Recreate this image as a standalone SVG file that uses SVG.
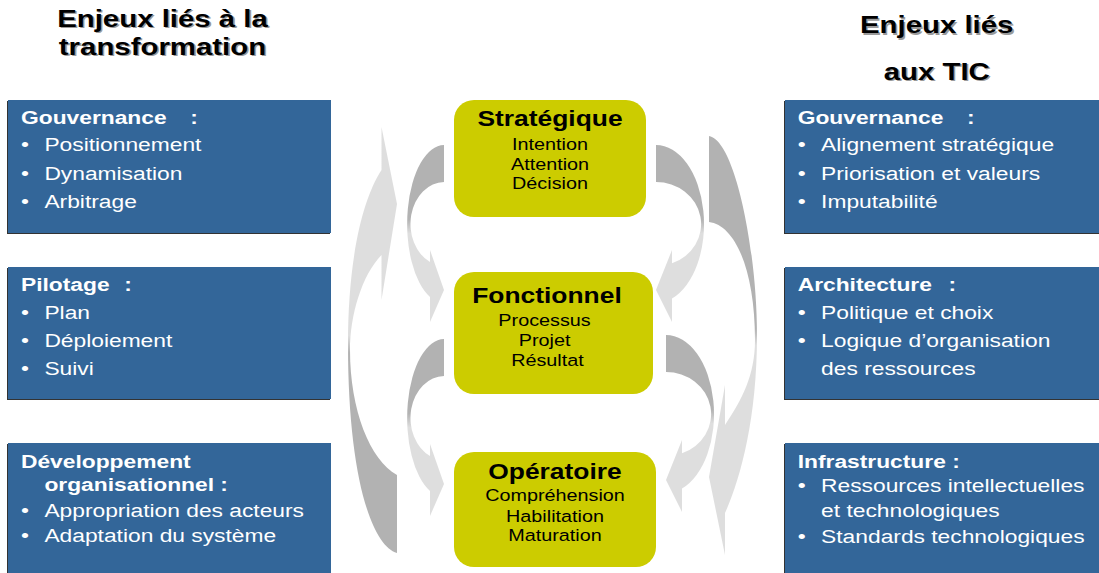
<svg xmlns="http://www.w3.org/2000/svg" width="1099" height="573" viewBox="0 0 1099 573">
  <style>
    text { font-family: "Liberation Sans", Arial, sans-serif; }
    .ttl { font-weight: bold; font-size: 24.5px; text-anchor: middle; }
    .sh { fill: #9a9a9a; }
    .fg { fill: #000000; }
    .box { fill: #336699; }
    .bs { fill: #333333; }
    .hd { font-weight: bold; font-size: 19px; fill: #ffffff; }
    .it { font-size: 19px; fill: #ffffff; }
    .lv { fill: #cccc00; }
    .lt { font-weight: bold; font-size: 22px; text-anchor: middle; fill: #000000; }
    .li { font-size: 16.5px; text-anchor: middle; fill: #000000; }
  </style>
  <defs>
    <!-- dark tail, light head (arrows pointing down) -->
    <linearGradient id="gSmall" x1="0" y1="0" x2="0" y2="1">
      <stop offset="0" stop-color="#b2b2b2"/>
      <stop offset="0.42" stop-color="#b2b2b2"/>
      <stop offset="0.5" stop-color="#dedede"/>
      <stop offset="1" stop-color="#dedede"/>
    </linearGradient>
    <linearGradient id="gBigL" x1="0" y1="0" x2="0" y2="1">
      <stop offset="0" stop-color="#dedede"/>
      <stop offset="0.49" stop-color="#dedede"/>
      <stop offset="0.53" stop-color="#b2b2b2"/>
      <stop offset="1" stop-color="#b2b2b2"/>
    </linearGradient>
    <linearGradient id="gBigR" x1="0" y1="0" x2="0" y2="1">
      <stop offset="0" stop-color="#b2b2b2"/>
      <stop offset="0.46" stop-color="#b2b2b2"/>
      <stop offset="0.5" stop-color="#dedede"/>
      <stop offset="1" stop-color="#dedede"/>
    </linearGradient>
    <path id="curveL" d="M444,145 A37,79 0 0 0 430,297 L430,322 L444,290 L430,250 L430,262 A34,42 0 0 1 444,182 Z"/>
    <path id="curveR" d="M656,145 A48,79 0 0 1 672,298.5 L672,322 L656,290 L672,250 L672,263.3 A45,42 0 0 0 656,182 Z"/>
  </defs>

  <rect width="1099" height="573" fill="#ffffff"/>

  <!-- column headings -->
  <g id="title-left">
    <g transform="translate(162.5,0) scale(1.2,1)">
      <text class="ttl sh" x="1.3" y="28.5">Enjeux liés à la</text>
      <text class="ttl sh" x="1.3" y="56.5">transformation</text>
      <text class="ttl fg" x="0" y="27">Enjeux liés à la</text>
      <text class="ttl fg" x="0" y="55">transformation</text>
    </g>
  </g>
  <g id="title-right">
    <g transform="translate(936.7,0) scale(1.2,1)">
      <text class="ttl sh" x="1.3" y="34.8">Enjeux liés</text>
      <text class="ttl sh" x="1.3" y="81.5">aux TIC</text>
      <text class="ttl fg" x="0" y="33.3">Enjeux liés</text>
      <text class="ttl fg" x="0" y="80">aux TIC</text>
    </g>
  </g>

  <!-- curved arrows between the levels -->
  <g id="connectors">
    <path id="arrow-big-left" fill="url(#gBigL)" d="M381.5,127 L397,204 L381.5,300 L381.5,255 C362,275 350,315 350,350 C350,410 370,460 397,475 L397,553 C370,545 348,470 348,345 C348,260 362,200 381.5,170 Z"/>
    <path id="arrow-big-right" fill="url(#gBigR)" d="M709,136 C735,140 757,250 757,335 C757,420 740,480 725,513 L725,555 L709,477 L725,385 L725,425 C742,400 755,375 755,340 C755,270 735,225 709,222 Z"/>
    <use id="arrow-left-1" href="#curveL" fill="url(#gSmall)"/>
    <use id="arrow-left-2" href="#curveL" fill="url(#gSmall)" transform="translate(0,194)"/>
    <use id="arrow-right-1" href="#curveR" fill="url(#gSmall)"/>
    <use id="arrow-right-2" href="#curveR" fill="url(#gSmall)" transform="translate(10,190)"/>
  </g>

  <!-- central levels -->
  <g id="level-strategique">
    <rect class="lv" x="454" y="100" width="192" height="117" rx="20"/>
    <g transform="translate(550,0) scale(1.2,1)">
      <text class="lt" x="0" y="126.5">Stratégique</text>
      <text class="li" x="0" y="150">Intention</text>
      <text class="li" x="0" y="170">Attention</text>
      <text class="li" x="0" y="189.5">Décision</text>
    </g>
  </g>
  <g id="level-fonctionnel">
    <rect class="lv" x="454" y="272" width="199" height="122" rx="20"/>
    <g transform="translate(546,0) scale(1.2,1)">
      <text class="lt" x="0.8" y="303.5">Fonctionnel</text>
      <text class="li" x="-1.2" y="326">Processus</text>
      <text class="li" x="-1.2" y="346">Projet</text>
      <text class="li" x="1.2" y="366">Résultat</text>
    </g>
  </g>
  <g id="level-operatoire">
    <rect class="lv" x="454" y="452" width="202" height="115" rx="20"/>
    <g transform="translate(555,0) scale(1.2,1)">
      <text class="lt" x="0" y="479.5">Opératoire</text>
      <text class="li" x="0" y="501.5">Compréhension</text>
      <text class="li" x="0" y="521.5">Habilitation</text>
      <text class="li" x="0" y="541.5">Maturation</text>
    </g>
  </g>

  <!-- transformation issues -->
  <g id="left-gouvernance">
    <rect class="bs" x="7" y="101" width="323" height="133"/>
    <rect class="box" x="8" y="100" width="323" height="133"/>
    <g transform="translate(21,0) scale(1.2,1)">
      <text class="hd" x="0" y="124">Gouvernance</text>
      <text class="hd" x="141" y="124">:</text>
      <text class="it" x="0" y="151">•</text><text class="it" x="19.5" y="151">Positionnement</text>
      <text class="it" x="0" y="180">•</text><text class="it" x="19.5" y="180">Dynamisation</text>
      <text class="it" x="0" y="208">•</text><text class="it" x="19.5" y="208">Arbitrage</text>
    </g>
  </g>
  <g id="left-pilotage">
    <rect class="bs" x="7" y="268" width="323" height="132"/>
    <rect class="box" x="8" y="267" width="323" height="132"/>
    <g transform="translate(21,0) scale(1.2,1)">
      <text class="hd" x="0" y="291">Pilotage</text>
      <text class="hd" x="86" y="291">:</text>
      <text class="it" x="0" y="319">•</text><text class="it" x="19.5" y="319">Plan</text>
      <text class="it" x="0" y="347">•</text><text class="it" x="19.5" y="347">Déploiement</text>
      <text class="it" x="0" y="375">•</text><text class="it" x="19.5" y="375">Suivi</text>
    </g>
  </g>
  <g id="left-developpement">
    <rect class="bs" x="7" y="444" width="323" height="131"/>
    <rect class="box" x="8" y="443" width="323" height="131"/>
    <g transform="translate(21,0) scale(1.2,1)">
      <text class="hd" x="0" y="468">Développement</text>
      <text class="hd" x="19.5" y="491.5">organisationnel :</text>
      <text class="it" x="0" y="517">•</text><text class="it" x="19.5" y="517">Appropriation des acteurs</text>
      <text class="it" x="0" y="542">•</text><text class="it" x="19.5" y="542">Adaptation du système</text>
    </g>
  </g>

  <!-- ICT issues -->
  <g id="right-gouvernance">
    <rect class="bs" x="784" y="101" width="315" height="133"/>
    <rect class="box" x="785" y="100" width="314" height="133"/>
    <g transform="translate(797.7,0) scale(1.2,1)">
      <text class="hd" x="0" y="124">Gouvernance</text>
      <text class="hd" x="141" y="124">:</text>
      <text class="it" x="0" y="151">•</text><text class="it" x="19.5" y="151">Alignement stratégique</text>
      <text class="it" x="0" y="180">•</text><text class="it" x="19.5" y="180">Priorisation et valeurs</text>
      <text class="it" x="0" y="208">•</text><text class="it" x="19.5" y="208">Imputabilité</text>
    </g>
  </g>
  <g id="right-architecture">
    <rect class="bs" x="784" y="268" width="315" height="132"/>
    <rect class="box" x="785" y="267" width="314" height="132"/>
    <g transform="translate(797.7,0) scale(1.2,1)">
      <text class="hd" x="0" y="291">Architecture</text>
      <text class="hd" x="125.7" y="291">:</text>
      <text class="it" x="0" y="319">•</text><text class="it" x="19.5" y="319">Politique et choix</text>
      <text class="it" x="0" y="347">•</text><text class="it" x="19.5" y="347">Logique d’organisation</text>
      <text class="it" x="19.5" y="375">des ressources</text>
    </g>
  </g>
  <g id="right-infrastructure">
    <rect class="bs" x="784" y="444" width="315" height="131"/>
    <rect class="box" x="785" y="443" width="314" height="131"/>
    <g transform="translate(797.7,0) scale(1.2,1)">
      <text class="hd" x="0" y="468">Infrastructure :</text>
      <text class="it" x="0" y="492.5">•</text><text class="it" x="19.5" y="492.5">Ressources intellectuelles</text>
      <text class="it" x="19.5" y="517.5">et technologiques</text>
      <text class="it" x="0" y="543">•</text><text class="it" x="19.5" y="543">Standards technologiques</text>
    </g>
  </g>
</svg>
